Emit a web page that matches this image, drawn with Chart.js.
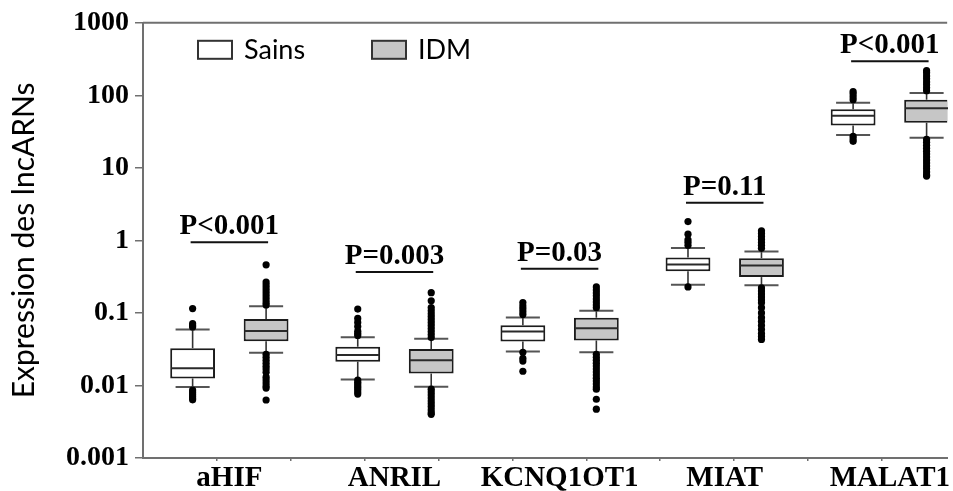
<!DOCTYPE html>
<html>
<head>
<meta charset="utf-8">
<script src="https://cdn.jsdelivr.net/npm/chart.js@4.4.1/dist/chart.umd.min.js"></script>
<style>
html,body{margin:0;padding:0;background:#ffffff;}
canvas{display:block;}
</style>
</head>
<body>
<canvas id="c" width="953" height="491"></canvas>
<script>
// ---------------- DATA ----------------
const categories = ['aHIF', 'ANRIL', 'KCNQ1OT1', 'MIAT', 'MALAT1'];
const seriesNames = ['Sains', 'IDM'];

// Sains (healthy)
const sainsWhiskerLow  = [0.0095, 0.0121, 0.0295, 0.245, 28.3];
const sainsQ1          = [0.0125, 0.0213, 0.0404, 0.377, 38.4];
const sainsMedian      = [0.0173, 0.0263, 0.0553, 0.466, 52.5];
const sainsQ3          = [0.0327, 0.0342, 0.0675, 0.580, 64.2];
const sainsWhiskerHigh = [0.059, 0.0463, 0.0868, 0.785, 79.2];
const sainsOutliers = [
  [0.115, 0.0712, 0.0668, 0.064, 0.00865, 0.00813, 0.0076, 0.00716, 0.00673, 0.00633],
  [0.113, 0.084, 0.074, 0.065, 0.056, 0.052, 0.049, 0.0119, 0.0111, 0.01045, 0.0098, 0.0093, 0.0087, 0.0081, 0.0076],
  [0.139, 0.125, 0.114, 0.104, 0.095, 0.0286, 0.0237, 0.0217, 0.0157],
  [1.82, 1.22, 1.02, 0.94, 0.855, 0.228],
  [113, 105, 95.8, 87.2, 27.2, 25.1, 23.2]
];

// IDM
const idmWhiskerLow  = [0.0283, 0.0096, 0.0286, 0.240, 26.1];
const idmQ1          = [0.0408, 0.0146, 0.0417, 0.312, 41.9];
const idmMedian      = [0.0565, 0.0222, 0.0614, 0.451, 66.2];
const idmQ3          = [0.0826, 0.0317, 0.0860, 0.568, 87.1];
const idmWhiskerHigh = [0.124, 0.044, 0.107, 0.701, 107.5];
const idmOutliers = [
  [0.46, 0.267, 0.243, 0.221, 0.201, 0.183, 0.166, 0.151, 0.138, 0.129,
   0.0269, 0.0244, 0.0222, 0.0202, 0.0184, 0.0168, 0.0152, 0.0130, 0.0119, 0.0108, 0.0098, 0.0092, 0.0063],
  [0.19, 0.147, 0.118, 0.107, 0.0975, 0.0887, 0.0807, 0.0735, 0.0669, 0.0609, 0.0554, 0.0504, 0.0458,
   0.0089, 0.0081, 0.0074, 0.0067, 0.0061, 0.0056, 0.0051, 0.0046, 0.0042, 0.0040],
  [0.228, 0.207, 0.189, 0.172, 0.156, 0.142, 0.129, 0.118,
   0.0269, 0.0245, 0.0223, 0.0203, 0.0185, 0.0168, 0.0153, 0.0139, 0.0126, 0.0115, 0.0105, 0.0095, 0.0089, 0.00646, 0.00471],
  [1.356, 1.246, 1.134, 1.032, 0.939, 0.855, 0.777,
   0.221, 0.201, 0.183, 0.166, 0.151, 0.138, 0.118, 0.100, 0.086, 0.076, 0.067, 0.059, 0.052, 0.0474, 0.043],
  [219, 204, 185, 169, 153, 140, 127, 116,
   24.7, 22.5, 20.5, 18.7, 17.0, 15.5, 14.1, 12.8, 11.7, 10.6, 9.7, 8.8, 8.0, 7.7]
];

// p-value annotations
const pLabels = ['P<0.001', 'P=0.003', 'P=0.03', 'P=0.11', 'P<0.001'];
const pLineLevels = [0.94, 0.366, 0.405, 3.30, 294];

// y axis ticks
const yTickValues = [0.001, 0.01, 0.1, 1, 10, 100, 1000];
const yTickLabels = ['0.001', '0.01', '0.1', '1', '10', '100', '1000'];
const yTitle = 'Expression des lncARNs';

// ---------------- STYLE ----------------
const AXIS_GRAY = '#707070';
const BOX_LINE = '#1c1c1c';
const IDM_FILL = '#c6c6c6';
const SERIF_BOLD = {family: '"Liberation Serif", "Times New Roman", serif', weight: 'bold'};
const X_MIN = -0.523, X_MAX = 4.347;
const MINOR_STEP = 0.4474;

function makeDataset(label, fill, q1, med, q3, lo, hi, out) {
  return {
    label: label,
    data: categories.map((c, i) => ({x: i, y: [q1[i], q3[i]]})),
    backgroundColor: fill,
    borderColor: BOX_LINE,
    borderWidth: 2,
    borderSkipped: false,
    categoryPercentage: 0.89,
    barPercentage: 0.61,
    stats: {q1, med, q3, lo, hi, out}
  };
}

function line(ctx, x1, y1, x2, y2) {
  ctx.beginPath(); ctx.moveTo(x1, y1); ctx.lineTo(x2, y2); ctx.stroke();
}

const boxPlugin = {
  id: 'boxExtras',
  beforeDatasetsDraw(chart) {
    const ctx = chart.ctx, ys = chart.scales.y;
    chart.data.datasets.forEach((ds, di) => {
      const meta = chart.getDatasetMeta(di);
      const st = ds.stats;
      meta.data.forEach((bar, i) => {
        const x = bar.x, w = bar.width;
        const pQ1 = ys.getPixelForValue(st.q1[i]);
        const pQ3 = ys.getPixelForValue(st.q3[i]);
        const pLo = ys.getPixelForValue(st.lo[i]);
        const pHi = ys.getPixelForValue(st.hi[i]);
        ctx.save();
        ctx.strokeStyle = '#333333';
        ctx.lineWidth = 1.6;
        line(ctx, x, pQ3, x, pHi);
        line(ctx, x, pQ1, x, pLo);
        ctx.lineWidth = 2;
        ctx.strokeStyle = '#555555';
        line(ctx, x - w * 0.38, pHi, x + w * 0.38, pHi);
        line(ctx, x - w * 0.38, pLo, x + w * 0.38, pLo);
        ctx.restore();
      });
    });
  },
  afterDatasetsDraw(chart) {
    const ctx = chart.ctx, ys = chart.scales.y;
    chart.data.datasets.forEach((ds, di) => {
      const meta = chart.getDatasetMeta(di);
      const st = ds.stats;
      meta.data.forEach((bar, i) => {
        const x = bar.x, w = bar.width;
        const pMed = ys.getPixelForValue(st.med[i]);
        ctx.save();
        ctx.strokeStyle = '#2a2a2a';
        ctx.lineWidth = 2;
        line(ctx, x - w / 2 + 1, pMed, x + w / 2 - 1, pMed);
        ctx.fillStyle = '#000000';
        st.out[i].forEach(v => {
          ctx.beginPath();
          ctx.arc(x, ys.getPixelForValue(v), 3.6, 0, Math.PI * 2);
          ctx.fill();
        });
        ctx.restore();
      });
    });
    // p-value annotations
    const m0 = chart.getDatasetMeta(0), m1 = chart.getDatasetMeta(1);
    categories.forEach((c, i) => {
      const x0 = m0.data[i].x, x1 = m1.data[i].x;
      const py = ys.getPixelForValue(pLineLevels[i]);
      ctx.save();
      ctx.strokeStyle = '#111111';
      ctx.lineWidth = 2;
      line(ctx, x0 - 2, py, x1 + 2, py);
      ctx.fillStyle = '#000000';
      ctx.font = 'bold 29px "Liberation Serif", "Times New Roman", serif';
      ctx.textAlign = 'center';
      ctx.textBaseline = 'alphabetic';
      ctx.fillText(pLabels[i], (x0 + x1) / 2, py - 8);
      ctx.restore();
    });
  },
  afterDraw(chart) {
    const ctx = chart.ctx, a = chart.chartArea;
    // top frame line
    ctx.save();
    ctx.strokeStyle = AXIS_GRAY;
    ctx.lineWidth = 2;
    line(ctx, a.left, a.top, a.right, a.top);
    // legend inside plot area
    ctx.font = '27px Lato, "Noto Sans", sans-serif';
    ctx.textBaseline = 'alphabetic';
    ctx.textAlign = 'left';
    chart.data.datasets.forEach((ds, di) => {
      const bx = a.left + 55 + di * 174;
      const by = a.top + 18;
      ctx.fillStyle = ds.backgroundColor;
      ctx.fillRect(bx, by, 34, 18);
      ctx.strokeStyle = '#333333';
      ctx.lineWidth = 2;
      ctx.strokeRect(bx, by, 34, 18);
      ctx.fillStyle = '#000000';
      ctx.fillText(ds.label, bx + 46, by + 18);
    });
    ctx.restore();
  }
};

new Chart(document.getElementById('c'), {
  type: 'bar',
  data: {
    datasets: [
      makeDataset(seriesNames[0], '#ffffff', sainsQ1, sainsMedian, sainsQ3, sainsWhiskerLow, sainsWhiskerHigh, sainsOutliers),
      makeDataset(seriesNames[1], IDM_FILL, idmQ1, idmMedian, idmQ3, idmWhiskerLow, idmWhiskerHigh, idmOutliers)
    ]
  },
  options: {
    responsive: false,
    animation: false,
    events: [],
    layout: {padding: {top: 19, left: 0, right: 0, bottom: 0}},
    plugins: {legend: {display: false}, tooltip: {enabled: false}},
    scales: {
      x: {
        type: 'linear',
        offset: false,
        min: X_MIN, max: X_MAX,
        afterBuildTicks: s => { s.ticks = categories.map((c, i) => ({value: i})); },
        afterFit: s => { s.height = 33; },
        ticks: {
          callback: (v) => categories[Math.round(v)],
          font: Object.assign({size: 29}, SERIF_BOLD),
          color: '#000000',
          padding: 3,
          autoSkip: false,
          maxRotation: 0
        },
        grid: {display: false, drawTicks: false, offset: false},
        border: {display: true, color: AXIS_GRAY, width: 2}
      },
      x2: {
        type: 'linear',
        offset: false,
        position: {y: 0.001},
        min: X_MIN, max: X_MAX,
        afterBuildTicks: s => {
          const t = [];
          for (let k = 1; k <= 10; k++) t.push({value: X_MIN + k * MINOR_STEP});
          s.ticks = t;
        },
        ticks: {display: false},
        grid: {display: true, offset: false, drawOnChartArea: false, drawTicks: true, tickLength: 3, color: AXIS_GRAY, lineWidth: 1.5},
        border: {display: false}
      },
      y: {
        type: 'logarithmic',
        min: 0.001, max: 1000,
        afterBuildTicks: s => { s.ticks = yTickValues.map(v => ({value: v})); },
        afterFit: s => { s.width = 143; },
        ticks: {
          callback: (v, i) => yTickLabels[i],
          font: Object.assign({size: 28}, SERIF_BOLD),
          color: '#000000',
          padding: 6,
          autoSkip: false
        },
        grid: {display: true, drawOnChartArea: false, drawTicks: true, tickLength: 8, color: AXIS_GRAY, lineWidth: 1.5},
        border: {display: true, color: AXIS_GRAY, width: 2},
        title: {
          display: true,
          text: yTitle,
          font: {family: 'Lato, "Noto Sans", sans-serif', size: 30, lineHeight: 1},
          color: '#000000',
          padding: {top: 9, bottom: 0}
        }
      }
    }
  },
  plugins: [boxPlugin]
});
</script>
</body>
</html>
